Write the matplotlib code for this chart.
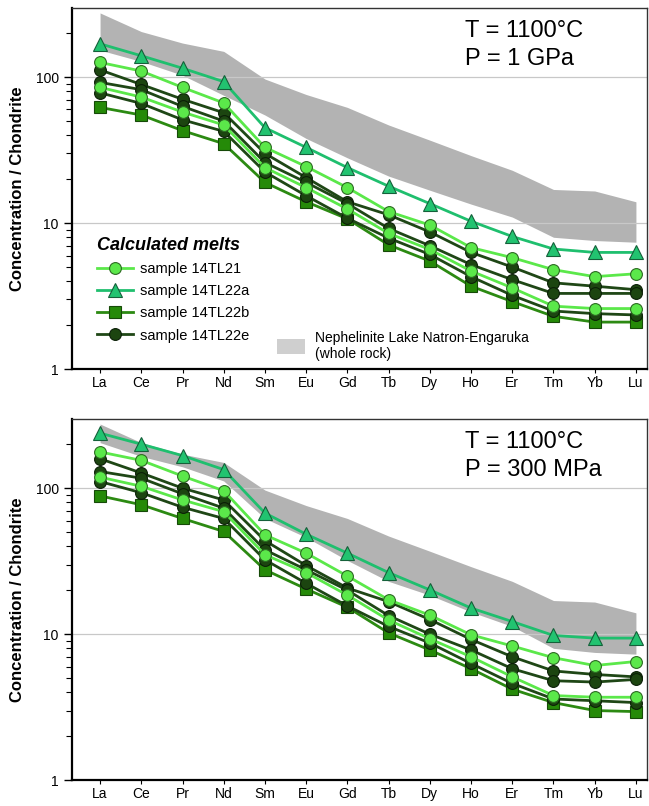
import matplotlib.pyplot as plt
from matplotlib.lines import Line2D
from matplotlib.patches import Patch

plt.rcParams['font.family'] = ['Liberation Sans', 'DejaVu Sans']

elements = ['La', 'Ce', 'Pr', 'Nd', 'Sm', 'Eu', 'Gd', 'Tb', 'Dy', 'Ho', 'Er', 'Tm', 'Yb', 'Lu']

# nephelinite whole rock envelope (Lake Natron-Engaruka)
band_upper = [275, 205, 171, 150, 97, 76, 62, 47, 37, 29, 23, 17, 16.6, 14]
band_lower_1gpa = [153, 128, 103, 75, 55, 38, 28, 21, 16.8, 13.5, 11, 8.0, 7.6, 7.4]
band_lower_300mpa = [205, 165, 140, 112, 62, 46, 32, 23, 18.5, 14.2, 11.3, 8.0, 7.5, 7.3]

# T = 1100 C, P = 1 GPa
gpa_14TL21 = [[126, 110, 85, 66.5, 33, 24.4, 17.5, 12, 9.7, 6.8, 5.8, 4.8, 4.3, 4.5],
              [85, 73, 57.6, 47, 24, 17.5, 12.5, 8.5, 6.6, 4.7, 3.6, 2.7, 2.6, 2.6]]
gpa_14TL22a = [[169, 140, 115, 93, 45, 33, 24, 17.9, 13.6, 10.3, 8.1, 6.65, 6.3, 6.3]]
gpa_14TL22b = [[62, 55, 43, 35, 19, 14, 10.7, 7.1, 5.5, 3.7, 2.9, 2.3, 2.1, 2.1]]
gpa_14TL22e = [[112, 89, 70.5, 57, 30, 20.5, 14, 11.4, 8.7, 6.3, 5.0, 3.9, 3.7, 3.5],
               [92, 82, 63, 50, 26, 19, 13.6, 9.2, 7.0, 5.2, 4.1, 3.3, 3.3, 3.3],
               [78, 66, 51, 42.5, 22.4, 15.4, 10.8, 7.9, 6.1, 4.3, 3.2, 2.5, 2.4, 2.35]]

# T = 1100 C, P = 300 MPa
mpa_14TL21 = [[177, 155, 121, 96, 47.9, 35.9, 25, 17.2, 13.5, 9.9, 8.3, 6.9, 6.1, 6.5],
              [119, 103, 83, 69, 35, 26.4, 18.5, 12.5, 9.3, 7.0, 5.1, 3.8, 3.7, 3.7]]
mpa_14TL22a = [[238, 200, 167, 134, 67.5, 48.4, 35.9, 26.4, 20.1, 15.1, 12.2, 9.8, 9.4, 9.4]]
mpa_14TL22b = [[88.5, 77, 62, 50.5, 27.6, 20.4, 15.3, 10.2, 7.8, 5.8, 4.2, 3.4, 3.0, 2.95]]
mpa_14TL22e = [[159, 127, 100, 83, 43.7, 29.5, 20.7, 16.7, 12.6, 9.2, 7.0, 5.6, 5.3, 5.1],
               [130, 117, 91.4, 73, 37.8, 27.6, 20, 13.4, 10, 7.8, 5.8, 4.8, 4.7, 4.9],
               [111, 93, 74, 62, 32.3, 22.3, 15.6, 11.3, 8.7, 6.3, 4.6, 3.6, 3.5, 3.4]]

styles = {
    'sample 14TL21': dict(marker='o', color='#5be84a', mfc='#5be84a', mec='#2c6a22', ms=8.5),
    'sample 14TL22a': dict(marker='^', color='#1fbf6e', mfc='#22c370', mec='#15603a', ms=10),
    'sample 14TL22b': dict(marker='s', color='#2c8a12', mfc='#258a08', mec='#164a08', ms=8.5),
    'sample 14TL22e': dict(marker='o', color='#1f4716', mfc='#1c4510', mec='#0b1f07', ms=8.5),
}
band_color = '#b3b3b3'

panels = [
    ('T = 1100°C\nP = 1 GPa', band_lower_1gpa,
     {'sample 14TL22b': gpa_14TL22b, 'sample 14TL22e': gpa_14TL22e,
      'sample 14TL21': gpa_14TL21, 'sample 14TL22a': gpa_14TL22a}),
    ('T = 1100°C\nP = 300 MPa', band_lower_300mpa,
     {'sample 14TL22b': mpa_14TL22b, 'sample 14TL22e': mpa_14TL22e,
      'sample 14TL21': mpa_14TL21, 'sample 14TL22a': mpa_14TL22a}),
]

fig = plt.figure(figsize=(6.49, 8.06), dpi=100)
axes = [fig.add_axes([0.111, 0.542, 0.886, 0.448]),
        fig.add_axes([0.111, 0.032, 0.886, 0.448])]

x = list(range(len(elements)))
for ax, (title, band_lower, samples) in zip(axes, panels):
    ax.fill_between(x, band_lower, band_upper, color=band_color, lw=0, zorder=1)
    for yv in [10, 100]:
        ax.axhline(yv, color='#c8c8c8', lw=0.9, zorder=1.5)
    z = 2
    for name, runs in samples.items():
        st = styles[name]
        for vals in runs:
            ax.plot(x, vals, lw=2, mew=0.8, zorder=z, **st)
            z += 0.1
    ax.set_yscale('log')
    ax.set_ylim(1, 297)
    ax.set_xlim(-0.68, 13.27)
    ax.set_xticks(x)
    ax.set_xticklabels(elements, fontsize=10)
    ax.set_yticks([1, 10, 100])
    ax.set_yticklabels(['1', '10', '100'], fontsize=10)
    ax.tick_params(axis='y', which='major', length=6, width=1)
    ax.tick_params(axis='y', which='minor', length=4, width=0.8)
    ax.tick_params(axis='x', length=3, width=0.8, pad=2)
    ax.set_ylabel('Concentration / Chondrite', fontsize=12, fontweight='bold', labelpad=8)
    for side in ['left', 'bottom']:
        ax.spines[side].set_linewidth(1.6)
    for side in ['top', 'right']:
        ax.spines[side].set_linewidth(1.0)
        ax.spines[side].set_color('#333333')
    ax.text(0.683, 0.968, title, transform=ax.transAxes, ha='left', va='top',
            fontsize=17, linespacing=1.4)

# legend only in the top panel
handles = [Line2D([0], [0], lw=2, mew=0.8, **styles[n]) for n in styles]
leg = axes[0].legend(handles, list(styles), loc='upper left', bbox_to_anchor=(0.03, 0.385),
                     frameon=False, fontsize=10.5, handlelength=2.5, handletextpad=0.5,
                     labelspacing=0.55, borderpad=0, title='Calculated melts',
                     title_fontproperties={'size': 13, 'weight': 'bold', 'style': 'italic'},
                     alignment='left')
axes[0].add_artist(leg)
axes[0].legend([Patch(facecolor='#cfcfcf', edgecolor='none')],
               ['Nephelinite Lake Natron-Engaruka\n(whole rock)'],
               loc='upper left', bbox_to_anchor=(0.345, 0.125), frameon=False,
               fontsize=10, handlelength=2.0, handleheight=1.3, handletextpad=0.7,
               borderpad=0)

plt.savefig('out.png', dpi=100)
